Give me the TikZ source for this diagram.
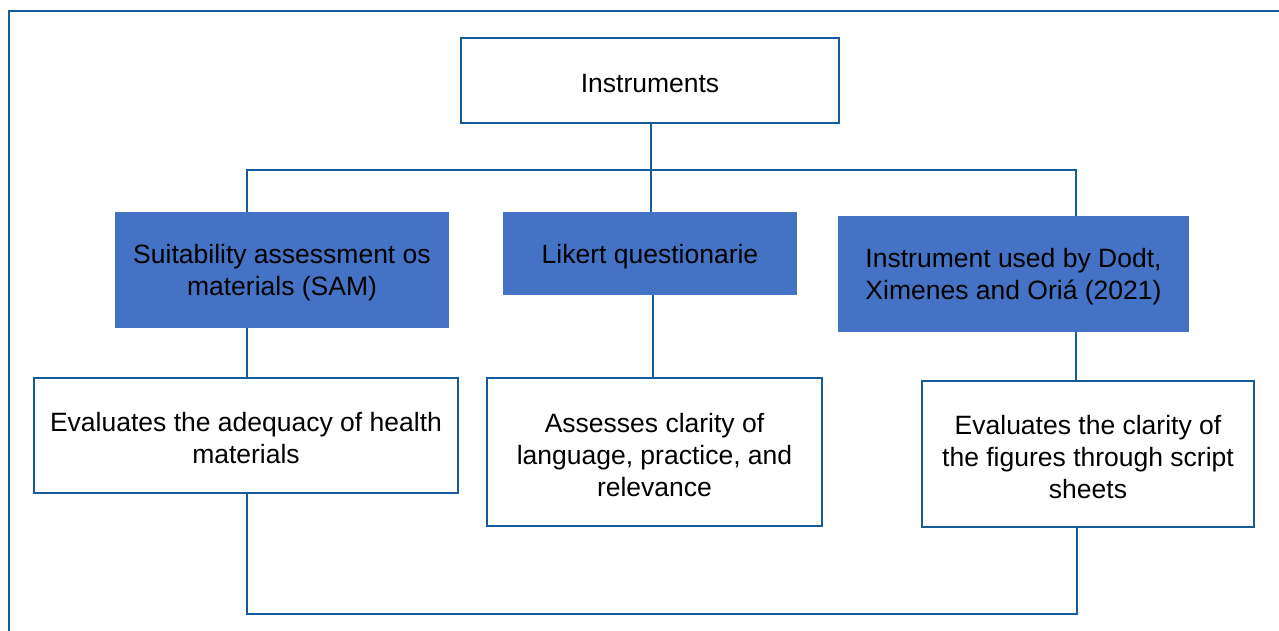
\documentclass[tikz,border=0pt]{standalone}
\usepackage{fontspec}
\setmainfont{Liberation Sans}
\definecolor{linkblue}{RGB}{22,92,155}
\definecolor{boxfill}{RGB}{68,114,196}
\tikzset{
  every node/.style={font=\fontsize{26.5}{32}\selectfont, align=center, inner sep=0pt},
  plainbox/.style={draw=linkblue, line width=2.4pt, fill=white},
  filledbox/.style={fill=boxfill, draw=none},
  txt/.style={label={[yshift=-3pt]center:#1}},
  link/.style={draw=linkblue, line width=2.4pt},
  frame/.style={draw=linkblue, line width=2.8pt}
}
\begin{document}
\begin{tikzpicture}[x=1pt, y=-1pt]
  \useasboundingbox (0,0) rectangle (1279,630);
  \clip (0,0) rectangle (1279,630);
  \fill[white] (0,0) rectangle (1279,630);

  % outer frame (extends past the right and bottom edges)
  \draw[frame] (9,11) rectangle (1300,660);

  % column and bus coordinates
  \coordinate (busL) at (247,170);
  \coordinate (busR) at (1076,170);
  \coordinate (colI) at (651,0);
  \coordinate (colM) at (653,0);
  \coordinate (bot)  at (1077,614);

  % boxes
  \node[plainbox, minimum width=378pt, minimum height=85pt,
        txt={Instruments}] (inst) at (650,80.5) {};
  \node[filledbox, minimum width=334pt, minimum height=116pt,
        txt={Suitability assessment os\\materials (SAM)}] (sam) at (282,270) {};
  \node[filledbox, minimum width=294pt, minimum height=83pt,
        txt={Likert questionarie}] (likert) at (650,253.5) {};
  \node[filledbox, minimum width=351pt, minimum height=116pt,
        txt={Instrument used by Dodt,\\Ximenes and Ori\'a (2021)}] (dodt) at (1013.5,274) {};
  \node[plainbox, minimum width=424pt, minimum height=115pt,
        txt={Evaluates the adequacy of health\\materials}] (adeq) at (246,435.5) {};
  \node[plainbox, minimum width=335pt, minimum height=148pt,
        txt={Assesses clarity of\\language, practice, and\\relevance}] (assess) at (654.5,452) {};
  \node[plainbox, minimum width=332pt, minimum height=146pt,
        txt={Evaluates the clarity of\\the figures through script\\sheets}] (figs) at (1088,454) {};

  % connectors
  \draw[link] (inst.south -| colI) -- (likert.north -| colI);
  \draw[link] (sam.north -| busL) |- (busR) -- (dodt.north -| busR);
  \draw[link] (sam.south -| busL) -- (adeq.north -| busL);
  \draw[link] (likert.south -| colM) -- (assess.north -| colM);
  \draw[link] (dodt.south -| busR) -- (figs.north -| busR);
  \draw[link] (adeq.south -| busL) |- (bot) -- (figs.south -| bot);
\end{tikzpicture}
\end{document}
